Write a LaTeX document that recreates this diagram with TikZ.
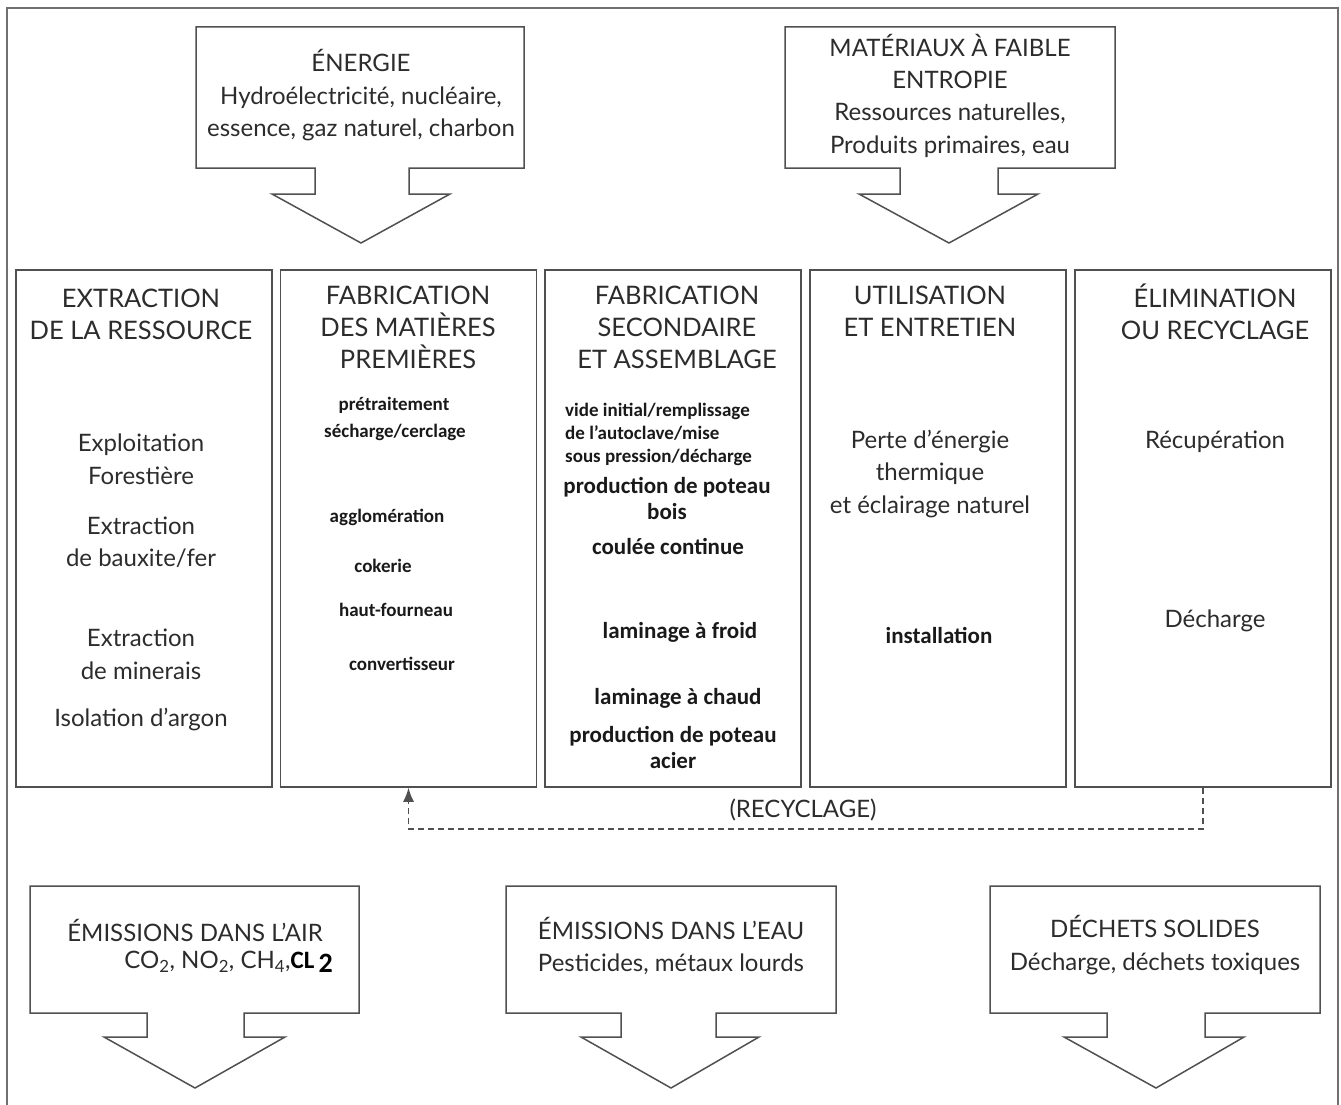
\documentclass[tikz,border=0pt]{standalone}
\usepackage{fontspec}
\setmainfont{Lato}
\newfontfamily\cali{Carlito}
\usetikzlibrary{arrows.meta}
\definecolor{ink}{HTML}{2C2C2C}
\definecolor{edge}{HTML}{505050}
\definecolor{frame}{HTML}{707070}
\begin{document}
\begin{tikzpicture}[x=1pt,y=-1pt,
  gill/.style={font=\fontsize{24}{32.5}\selectfont, text=ink, align=center, inner sep=0},
  head/.style={font=\fontsize{25.5}{32}\selectfont, text=ink, align=center, inner sep=0},
  cb/.style={font=\cali\bfseries\fontsize{19}{23}\selectfont, text=black!90, inner sep=0, align=center},
  cbl/.style={font=\cali\bfseries\fontsize{23}{26}\selectfont, text=black!90, inner sep=0, align=center},
  col/.style={draw=edge, line width=1.5pt, minimum width=256, minimum height=517, inner sep=0},
  abox/.style={draw=edge, line width=1.5pt, line join=miter},
  recyc/.style={draw=edge, line width=1.5pt, dash pattern=on 6pt off 4pt, -{Latex[length=14,width=11]}}]
\useasboundingbox (0,0) rectangle (1341,1105);
% outer frame
\draw[frame, line width=2pt] (7,1115) -- (7,8) -- (1338,8) -- (1338,1115);

% top arrow boxes
\draw[abox] (196,27) -- (524,27) -- (524,168) -- (409,168) -- (409,194) -- (450,194) -- (361,243) -- (272,194) -- (315,194) -- (315,168) -- (196,168) -- cycle;
\node[gill] (energie) at (361,95.5) {ÉNERGIE\\Hydroélectricité, nucléaire,\\essence, gaz naturel, charbon};
\draw[abox] (785,27) -- (1115,27) -- (1115,168) -- (998,168) -- (998,194) -- (1038,194) -- (949,243) -- (859,194) -- (900,194) -- (900,168) -- (785,168) -- cycle;
\node[gill, font=\fontsize{24}{32.3}\selectfont] (materiaux) at (950,95.5) {MATÉRIAUX À FAIBLE\\ENTROPIE\\Ressources naturelles,\\Produits primaires, eau};

% columns
\node[col] (c1) at (144,528.5) {};
\node[col] (c2) at (408.5,528.5) {};
\node[col] (c3) at (673,528.5) {};
\node[col] (c4) at (938,528.5) {};
\node[col] (c5) at (1203,528.5) {};

% column 1
\node[head] (h1) at (141,314) {EXTRACTION\\DE LA RESSOURCE};
\node[gill] (t11) at (141,459.5) {Exploitation\\Forestière};
\node[gill] (t12) at (141,542) {Extraction\\de bauxite/fer};
\node[gill] (t13) at (141,654.5) {Extraction\\de minerais};
\node[gill] (t14) at (141,720) {Isolation d’argon};

% column 2
\node[head] (h2) at (408,327.5) {FABRICATION\\DES MATIÈRES\\PREMIÈRES};
\node[cb] (t21) at (394,405) {prétraitement};
\node[cb] (t22) at (395,432) {sécharge/cerclage};
\node[cb] (t23) at (387,517) {agglomération};
\node[cb] (t24) at (383,566) {cokerie};
\node[cb] (t25) at (396,610) {haut-fourneau};
\node[cb] (t26) at (402,664) {convertisseur};

% column 3
\node[head] (h3) at (677,327) {FABRICATION\\SECONDAIRE\\ET ASSEMBLAGE};
\node[cb, align=left, anchor=west] (t31) at (565,434) {vide initial/remplissage\\de l’autoclave/mise\\sous pression/décharge};
\node[cbl] (t32) at (667,498) {production de poteau\\bois};
\node[cbl] (t33) at (668,546) {coulée continue};
\node[cbl] (t34) at (680,632) {laminage à froid};
\node[cbl] (t35) at (678,698) {laminage à chaud};
\node[cbl] (t36) at (673,747.5) {production de poteau\\acier};

% column 4
\node[head] (h4) at (930,311) {UTILISATION\\ET ENTRETIEN};
\node[gill] (t41) at (930,474) {Perte d’énergie\\thermique\\et éclairage naturel};
\node[cbl] (t42) at (939,635) {installation};

% column 5
\node[head] (h5) at (1215,312) {ÉLIMINATION\\OU RECYCLAGE};
\node[gill] (t51) at (1215,442) {Récupération};
\node[gill] (t52) at (1215,621) {Décharge};

% recycling loop
\draw[recyc] (c5.south) -- ++(0,41) -| (c2.south);
\node[gill] (rl) at (803,810) {(RECYCLAGE)};

% bottom arrow boxes
\draw[abox] (30,886) -- (359,886) -- (359,1013) -- (244,1013) -- (244,1037) -- (285,1037) -- (195,1088) -- (104,1037) -- (147,1037) -- (147,1013) -- (30,1013) -- cycle;
\node[gill] (air1) at (195,930) {ÉMISSIONS DANS L’AIR};
\node[gill, anchor=east] (air2) at (333,962) {CO\textsubscript{2}, NO\textsubscript{2}, CH\textsubscript{4},{\cali\bfseries\color{black}\fontsize{25}{25}\selectfont CL\,\raisebox{-4pt}{\fontsize{28}{28}\selectfont 2}}};

\draw[abox] (506,886) -- (836,886) -- (836,1013) -- (716,1013) -- (716,1037) -- (759,1037) -- (671,1088) -- (581,1037) -- (621,1037) -- (621,1013) -- (506,1013) -- cycle;
\node[gill] (eau) at (671,946) {ÉMISSIONS DANS L’EAU\\Pesticides, métaux lourds};

\draw[abox] (990,886) -- (1320,886) -- (1320,1013) -- (1205,1013) -- (1205,1037) -- (1244,1037) -- (1156,1088) -- (1064,1037) -- (1107,1037) -- (1107,1013) -- (990,1013) -- cycle;
\node[gill] (dechets) at (1155,945) {DÉCHETS SOLIDES\\Décharge, déchets toxiques};
\end{tikzpicture}
\end{document}
